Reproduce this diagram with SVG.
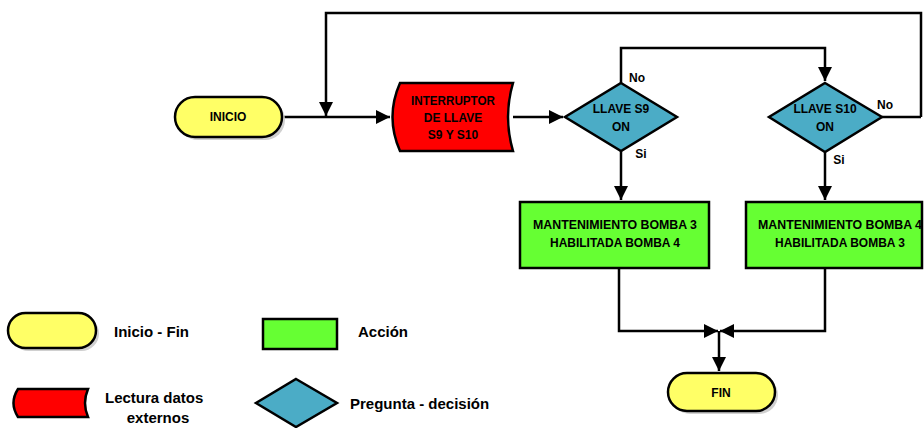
<svg xmlns="http://www.w3.org/2000/svg" width="924" height="428" viewBox="0 0 924 428">
<defs>
<marker id="arr" viewBox="0 0 14 14" refX="14" refY="7" markerWidth="14" markerHeight="14" markerUnits="userSpaceOnUse" orient="auto">
<path d="M0,0 L14,7 L0,14 Z" fill="#000"/>
</marker>
<style>
.ln{fill:none;stroke:#000;stroke-width:2.5}
.sh{stroke:#000;stroke-width:2.5}
.shadow{fill:#d0d0d0;stroke:none}
.t{font-family:"Liberation Sans",Arial,sans-serif;font-weight:bold;font-size:12px;fill:#000;text-anchor:middle}
.lg{font-family:"Liberation Sans",Arial,sans-serif;font-weight:bold;font-size:15px;fill:#000}
.y{fill:#FFFF66}.r{fill:#FF0000}.b{fill:#4BACC6}.g{fill:#66FF33}
</style>
</defs>
<rect width="924" height="428" fill="#fff"/>
<g id="connectors">
<path class="ln" d="M282,117 L390,117" marker-end="url(#arr)"/>
<path class="ln" d="M921,117 L921,13 L326,13 L326,116" marker-end="url(#arr)"/>
<path class="ln" d="M513,117 L563,117" marker-end="url(#arr)"/>
<path class="ln" d="M621,83 L621,48 L825,48 L825,81" marker-end="url(#arr)"/>
<path class="ln" d="M882,117 L921,117"/>
<path class="ln" d="M621,151 L621,200" marker-end="url(#arr)"/>
<path class="ln" d="M825,152 L825,200" marker-end="url(#arr)"/>
<path class="ln" d="M619,268 L619,331 L718,331" marker-end="url(#arr)"/>
<path class="ln" d="M825,268 L825,331 L720,331" marker-end="url(#arr)"/>
<path class="ln" d="M719,331 L719,371" marker-end="url(#arr)"/>
<text class="t" x="637" y="82">No</text>
<text class="t" x="885" y="109">No</text>
<text class="t" x="641" y="158">Si</text>
<text class="t" x="839" y="164">Si</text>
</g>
<g id="inicio">
<rect class="shadow" x="178" y="100" width="107" height="40" rx="20"/>
<rect class="y sh" x="175" y="97" width="107" height="40" rx="20"/>
<text class="t" x="228" y="121">INICIO</text>
</g>
<g id="interruptor">
<path class="r sh" d="M400,83 L513,83 Q503,117 513,151 L400,151 Q385,117 400,83 Z"/>
<text class="t" x="453" y="105" textLength="84" lengthAdjust="spacingAndGlyphs">INTERRUPTOR</text>
<text class="t" x="453" y="122">DE LLAVE</text>
<text class="t" x="453" y="139">S9 Y S10</text>
</g>
<g id="s9">
<path class="b sh" d="M621,83 L677,117 L621,151 L565,117 Z"/>
<text class="t" x="621" y="113">LLAVE S9</text>
<text class="t" x="621" y="131">ON</text>
</g>
<g id="s10">
<path class="b sh" d="M825,83 L882,117 L825,152 L769,117 Z"/>
<text class="t" x="825" y="113">LLAVE S10</text>
<text class="t" x="825" y="131">ON</text>
</g>
<g id="accion1">
<rect class="g sh" x="520" y="202" width="189" height="66"/>
<text class="t" x="615" y="229" textLength="164" lengthAdjust="spacingAndGlyphs">MANTENIMIENTO BOMBA 3</text>
<text class="t" x="615" y="247" textLength="130" lengthAdjust="spacingAndGlyphs">HABILITADA BOMBA 4</text>
</g>
<g id="accion2">
<rect class="g sh" x="746" y="202" width="176" height="66"/>
<text class="t" x="840" y="229" textLength="164" lengthAdjust="spacingAndGlyphs">MANTENIMIENTO BOMBA 4</text>
<text class="t" x="840" y="247" textLength="130" lengthAdjust="spacingAndGlyphs">HABILITADA BOMBA 3</text>
</g>
<g id="fin">
<rect class="shadow" x="671" y="376" width="107" height="38" rx="19"/>
<rect class="y sh" x="668" y="373" width="107" height="38" rx="19"/>
<text class="t" x="721" y="397">FIN</text>
</g>
<g id="legend">
<rect class="shadow" x="11" y="316" width="88" height="35" rx="17.5"/>
<rect class="y sh" x="8" y="313" width="88" height="35" rx="17.5"/>
<text class="lg" x="114" y="337">Inicio - Fin</text>
<rect class="g sh" x="263" y="319" width="74" height="30"/>
<text class="lg" x="358" y="337">Acción</text>
<path class="r sh" d="M18,389 L88,389 Q82,403 88,417 L18,417 Q9,403 18,389 Z"/>
<text class="lg" x="105" y="403">Lectura datos</text>
<text class="lg" x="158" y="423" text-anchor="middle">externos</text>
<path class="b sh" d="M296,379 L337,403 L296,427 L256,403 Z"/>
<text class="lg" x="350" y="409">Pregunta - decisión</text>
</g>
</svg>
